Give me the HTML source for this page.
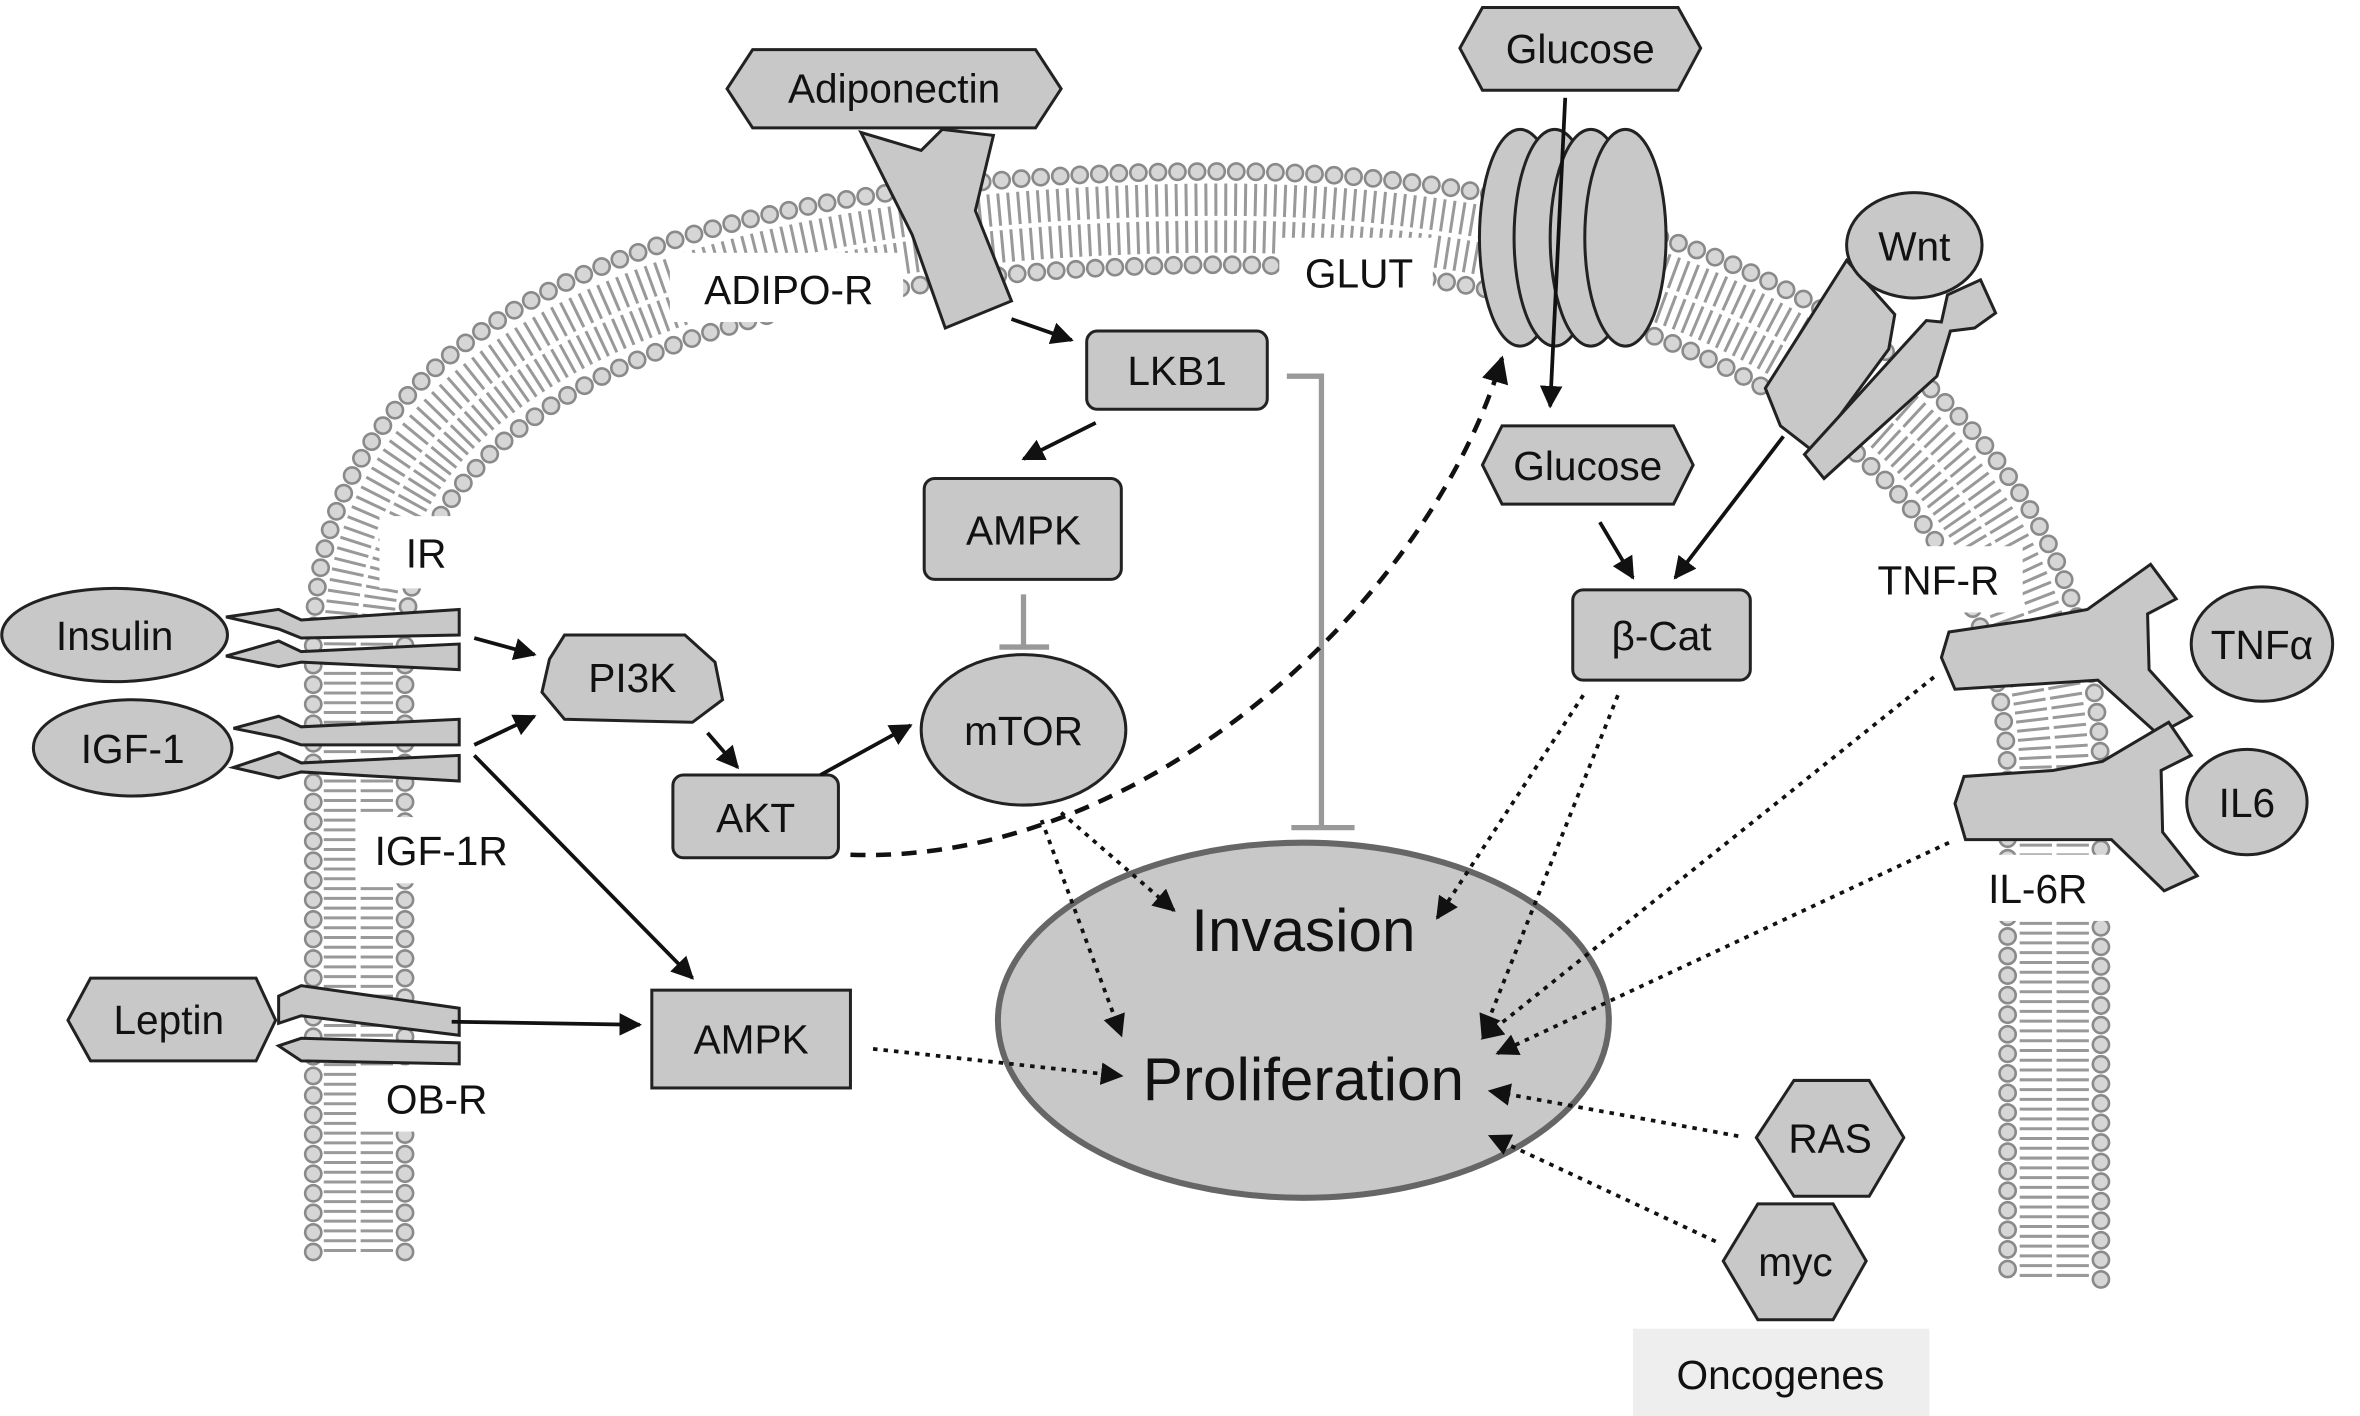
<!DOCTYPE html>
<html><head><meta charset="utf-8"><style>html,body{margin:0;padding:0;background:#fff}svg{display:block}</style></head>
<body>
<svg width="2360" height="1416" viewBox="0 0 1568 941" xmlns="http://www.w3.org/2000/svg" font-family="Liberation Sans, sans-serif">
<defs>
<marker id="a" viewBox="0 0 10 10" refX="9" refY="5" markerWidth="6" markerHeight="6" orient="auto"><path d="M0,0L10,5L0,10z" fill="#111"/></marker>
</defs>
<rect width="1568" height="941" fill="#fff"/>
<g fill="none">
<path d="M238,832 L238,430 C238,235 470,148 800,145 C1100,142 1365,260 1365,520 L1365,852" stroke="#999" stroke-width="46" stroke-dasharray="2 4.5"/>
<path d="M238,832 L238,430 C238,235 470,148 800,145 C1100,142 1365,260 1365,520 L1365,852" stroke="#fff" stroke-width="3"/>
<path d="M208,832 L208,430 C208,205 455,116 800,114 C1115,111 1396,235 1396,520 L1396,852" stroke="#8a8a8a" stroke-width="12.5" stroke-dasharray="0 13" stroke-linecap="round"/>
<path d="M208,832 L208,430 C208,205 455,116 800,114 C1115,111 1396,235 1396,520 L1396,852" stroke="#d6d6d6" stroke-width="9" stroke-dasharray="0 13" stroke-linecap="round"/>
<path d="M269,832 L269,430 C269,265 485,179 800,176 C1085,173 1334,285 1334,520 L1334,852" stroke="#8a8a8a" stroke-width="12.5" stroke-dasharray="0 13" stroke-linecap="round"/>
<path d="M269,832 L269,430 C269,265 485,179 800,176 C1085,173 1334,285 1334,520 L1334,852" stroke="#d6d6d6" stroke-width="9" stroke-dasharray="0 13" stroke-linecap="round"/>
</g>
<g fill="#fff">
<rect x="445" y="168" width="155" height="46"/><rect x="850" y="158" width="102" height="46"/>
<rect x="252" y="343" width="64" height="48"/><rect x="236" y="543" width="118" height="44"/>
<rect x="238" y="708" width="106" height="44"/><rect x="1232" y="363" width="112" height="44"/>
<rect x="1302" y="568" width="104" height="44"/>
</g>
<g font-size="27" fill="#111" text-anchor="middle">
<text x="524" y="202">ADIPO-R</text><text x="903" y="191">GLUT</text>
<text x="283" y="377">IR</text><text x="293" y="575">IGF-1R</text>
<text x="290" y="740">OB-R</text><text x="1288" y="395">TNF-R</text><text x="1354" y="600">IL-6R</text>
</g>
<g stroke="#222" stroke-width="2" fill="#c8c8c8">
<polygon points="483,59 500,33 688,33 705,59 688,85 500,85"/>
<polygon points="572,88 612,100 626,86 660,90 648,140 672,200 628,218 606,156"/>
<polygon points="970,32 985,5 1115,5 1130,32 1115,60 985,60"/>
<ellipse cx="1010" cy="158" rx="27" ry="72"/><ellipse cx="1033" cy="158" rx="27" ry="72"/><ellipse cx="1057" cy="158" rx="27" ry="72"/><ellipse cx="1080" cy="158" rx="27" ry="72"/>
<polygon points="985,309 998,283 1112,283 1125,309 1112,335 998,335"/>
<polygon points="1173,258 1227,173 1259,209 1255,232 1205,300 1183,283"/>
<polygon points="1199,302 1280,213 1290,214 1294,196 1316,186 1326,208 1312,218 1296,220 1287,250 1212,318"/>
<ellipse cx="1272" cy="163" rx="45" ry="35"/>
<rect x="722" y="220" width="120" height="52" rx="7"/>
<rect x="614" y="318" width="131" height="67" rx="7"/>
<ellipse cx="680" cy="485" rx="68" ry="50"/>
<polygon points="375,422 455,422 475,440 480,465 460,480 375,478 360,460 365,438"/>
<rect x="447" y="515" width="110" height="55" rx="7"/>
<rect x="433" y="658" width="132" height="65"/>
<ellipse cx="76" cy="422" rx="75" ry="31"/><ellipse cx="88" cy="497" rx="66" ry="32"/>
<polygon points="45,678 60,650 170,650 183,678 170,705 60,705"/>
<path d="M150,410 L185,405 L200,412 L305,405 L305,422 L200,424 L185,418 Z"/>
<path d="M150,436 L185,426 L200,433 L305,428 L305,445 L200,440 L185,443 Z"/>
<path d="M155,484 L185,476 L200,483 L305,478 L305,495 L200,495 L185,490 Z"/>
<path d="M155,510 L185,500 L200,507 L305,502 L305,519 L200,513 L185,517 Z"/>
<path d="M185,662 L200,655 L305,670 L305,688 L200,675 L185,680 Z"/>
<path d="M185,695 L200,690 L305,693 L305,707 L200,705 Z"/>
<ellipse cx="866" cy="678" rx="203" ry="118" stroke="#666" stroke-width="4"/>
<rect x="1045" y="392" width="118" height="60" rx="7"/>
<polygon points="1295,420 1290,437 1299,458 1394,452 1434,488 1456,476 1428,445 1427,408 1446,398 1429,375 1387,405 1349,412"/>
<polygon points="1305,516 1299,534 1306,558 1403,558 1438,592 1460,582 1437,553 1436,512 1456,502 1441,480 1397,506 1364,512"/>
<ellipse cx="1503" cy="428" rx="47" ry="38"/><ellipse cx="1493" cy="533" rx="40" ry="35"/>
<polygon points="1167,756 1192,718 1242,718 1265,756 1242,795 1192,795"/>
<polygon points="1145,838 1168,800 1218,800 1240,838 1218,877 1168,877"/>
</g>
<rect x="1085" y="883" width="197" height="58" fill="#eee"/>
<g stroke="#999" stroke-width="3.5" fill="none">
<path d="M855,250 L878,250 L878,550"/><path d="M858,550 L900,550"/>
<path d="M680,395 L680,430"/><path d="M664,430 L697,430"/>
</g>
<g stroke="#111" stroke-width="2.5" fill="none" marker-end="url(#a)">
<path d="M1040,65 L1030,270"/>
<path d="M672,212 L712,226"/><path d="M728,281 L680,305"/>
<path d="M315,424 L355,435"/><path d="M315,495 L355,476"/>
<path d="M470,487 L490,510"/><path d="M545,515 L605,482"/>
<path d="M315,502 L460,650"/><path d="M300,679 L425,681"/>
<path d="M1063,347 L1085,384"/><path d="M1185,290 L1113,384"/>
</g>
<path d="M565,568 C760,575 950,400 998,238" stroke="#111" stroke-width="3" stroke-dasharray="10 7" fill="none" marker-end="url(#a)"/>
<g stroke="#111" stroke-width="2.5" stroke-dasharray="3 4" fill="none" marker-end="url(#a)">
<path d="M705,540 L780,605"/><path d="M692,545 L745,688"/>
<path d="M1052,462 L955,610"/><path d="M1075,462 L985,688"/>
<path d="M1285,450 L985,690"/><path d="M1295,560 L995,700"/>
<path d="M580,697 L745,715"/><path d="M1155,755 L990,725"/><path d="M1140,825 L990,755"/>
</g>
<g font-size="27" fill="#111" text-anchor="middle">
<text x="594" y="68">Adiponectin</text><text x="1050" y="42">Glucose</text>
<text x="1055" y="319">Glucose</text><text x="1272" y="173">Wnt</text>
<text x="782" y="256">LKB1</text><text x="680" y="362">AMPK</text><text x="680" y="495">mTOR</text>
<text x="420" y="460">PI3K</text><text x="502" y="553">AKT</text><text x="499" y="700">AMPK</text>
<text x="76" y="432">Insulin</text><text x="88" y="507">IGF-1</text><text x="112" y="687">Leptin</text>
<text x="1104" y="432">β-Cat</text><text x="1503" y="438">TNFα</text><text x="1493" y="543">IL6</text>
<text x="1216" y="766">RAS</text><text x="1193" y="848">myc</text><text x="1183" y="923">Oncogenes</text>
<text x="866" y="632" font-size="40">Invasion</text><text x="866" y="731" font-size="40">Proliferation</text>
</g>
</svg>
</body></html>
